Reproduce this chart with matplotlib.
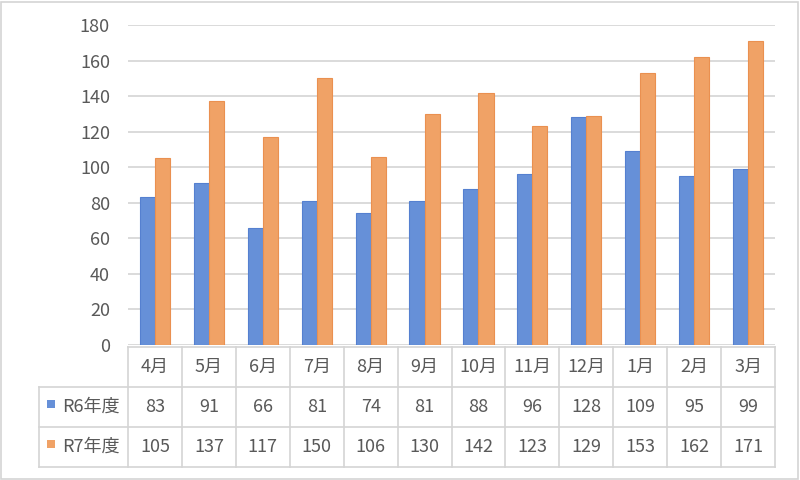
import matplotlib.pyplot as plt
import numpy as np

months = ["4月", "5月", "6月", "7月", "8月", "9月", "10月", "11月", "12月", "1月", "2月", "3月"]
series_names = ["R6年度", "R7年度"]
r6 = [83, 91, 66, 81, 74, 81, 88, 96, 128, 109, 95, 99]
r7 = [105, 137, 117, 150, 106, 130, 142, 123, 129, 153, 162, 171]

colors = ["#6690D8", "#F0A266"]
edges = ["#5580D0", "#EA9050"]
text_color = "#595959"
grid_color = "#D4D4D4"
fs = 13

plt.rcParams["font.family"] = ["Noto Sans CJK JP", "DejaVu Sans"]


def main():
    W, H = 800, 480
    fig = plt.figure(figsize=(8, 4.8), dpi=100)

    # chart area border
    fig.patches.append(plt.Rectangle((1 / W, 1 / H), 797 / W, 477 / H, transform=fig.transFigure,
                                     fill=False, edgecolor=grid_color, linewidth=1.2))

    # plot area
    x0, x1 = 128, 775
    y_top, y_base = 25, 345
    ax = fig.add_axes([x0 / W, 1 - y_base / H, (x1 - x0) / W, (y_base - y_top) / H])
    x = np.arange(len(months))
    bw = 0.28
    ax.bar(x - bw / 2, r6, bw, color=colors[0], edgecolor=edges[0], linewidth=0.8, zorder=3)
    ax.bar(x + bw / 2, r7, bw, color=colors[1], edgecolor=edges[1], linewidth=0.8, zorder=3)
    ax.set_xlim(-0.5, len(months) - 0.5)
    ax.set_ylim(0, 180)
    ax.set_yticks(range(0, 181, 20))
    ax.yaxis.grid(True, color=grid_color, linewidth=1.2)
    ax.set_axisbelow(True)
    ax.set_xticks([])
    for s in ax.spines.values():
        s.set_visible(False)
    ax.tick_params(axis="y", length=0, pad=13, labelsize=fs, labelcolor=text_color)

    # data table
    leg_left = 39
    tbl_top, tbl_bot = 347, 467
    unit = (x1 - x0) / len(months)
    tx = fig.add_axes([leg_left / W, 1 - tbl_bot / H, (x1 - leg_left) / W, (tbl_bot - tbl_top) / H])
    left_edge = -0.5 - (x0 - leg_left) / unit
    tx.set_xlim(left_edge, len(months) - 0.5)
    tx.set_ylim(0, 3)
    tx.axis("off")

    lw = 1.2
    for i in range(len(months) + 1):
        tx.plot([i - 0.5, i - 0.5], [0, 3], color=grid_color, lw=lw, clip_on=False)
    tx.plot([left_edge, left_edge], [0, 2], color=grid_color, lw=lw, clip_on=False)
    tx.plot([-0.5, len(months) - 0.5], [3, 3], color=grid_color, lw=lw, clip_on=False)
    for yy in [2, 1, 0]:
        tx.plot([left_edge, len(months) - 0.5], [yy, yy], color=grid_color, lw=lw, clip_on=False)

    for i, m in enumerate(months):
        tx.text(i, 2.5, m, ha="center", va="center", fontsize=fs, color=text_color)
        tx.text(i, 1.5, str(r6[i]), ha="center", va="center", fontsize=fs, color=text_color)
        tx.text(i, 0.5, str(r7[i]), ha="center", va="center", fontsize=fs, color=text_color)

    for k, name in enumerate(series_names):
        yc = 1.5 - k
        tx.add_patch(plt.Rectangle((left_edge + 0.14, yc - 0.02), 0.16, 0.2,
                                   facecolor=colors[k], edgecolor="none", clip_on=False))
        tx.text(left_edge + 0.42, yc, name, ha="left", va="center", fontsize=fs, color=text_color)

    fig.savefig("out.png", dpi=100)


if __name__ == "__main__":
    main()
